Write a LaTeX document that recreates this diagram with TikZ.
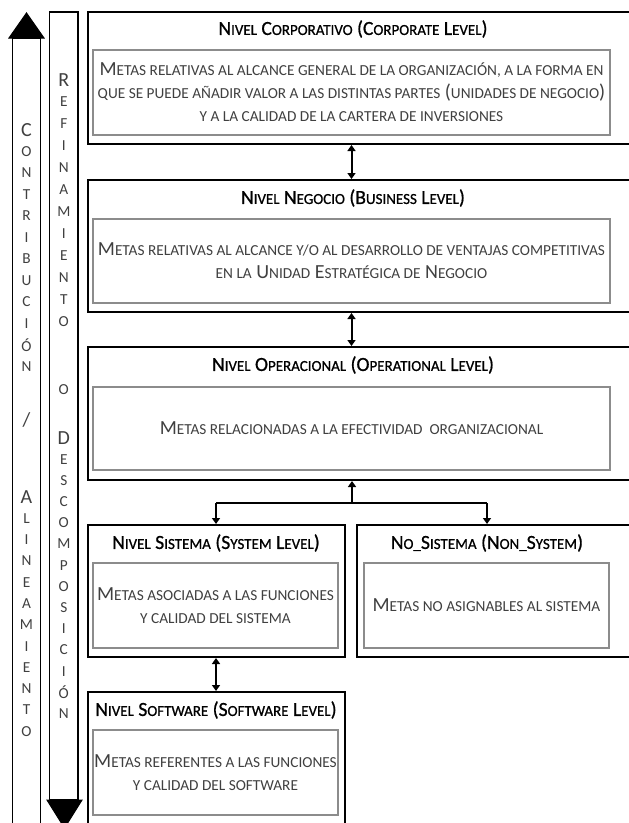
\documentclass[tikz,border=0pt]{standalone}
\usepackage{fontspec}
\setmainfont{Carlito}
\newfontfamily\tfont{Carlito}[FakeStretch=0.98,FakeBold=0.8]
\usetikzlibrary{arrows.meta}
% Word-style small capitals: lower-case letters set as smaller capitals
\newcommand\sk[1]{{\fontsize{15.3}{18}\selectfont #1}}
\definecolor{txtgray}{HTML}{404040}
\definecolor{boxgray}{HTML}{8C8C8C}
\tikzset{
  outerbox/.style={draw=black, line width=2pt, rectangle, inner sep=0pt},
  innerbox/.style={draw=boxgray, line width=1.5pt, fill=white, rectangle, inner sep=0pt,
                   font=\fontsize{20}{23}\selectfont, text=txtgray, align=center},
  titletext/.style={font=\tfont\fontsize{20}{22}\selectfont, text=black, inner sep=0pt},
  tip/.tip={Triangle[width=8pt,length=6pt]},
  link/.style={line width=2pt, tip-tip},
  uplink/.style={line width=2pt, -tip},
  column/.style={draw=black, line width=1.3pt, fill=white},
  colhead/.style={draw=black, line width=1pt, fill=black},
  colbig/.style={font=\fontsize{20}{22}\selectfont, text=txtgray, inner sep=0pt},
  colsmall/.style={font=\fontsize{15.3}{18}\selectfont, text=txtgray, inner sep=0pt},
}
\begin{document}
\begin{tikzpicture}[x=1pt,y=-1pt]
\useasboundingbox (0,0) rectangle (629,823);
\fill[white] (0,0) rectangle (629,823);
\clip (0,0) rectangle (629,823);

% ---- side columns ----
\draw[column] (12.5,38) rectangle (40.5,840);
\draw[colhead] (9,38) -- (44,38) -- (26.5,13) -- cycle;
\draw[column] (49.5,12) rectangle (78,800);
\draw[colhead] (47,800) -- (82,800) -- (64.5,828) -- cycle;

% CONTRIBUCIÓN / ALINEAMIENTO (arrow points up)
\node[colbig] (lc0) at (26.5,130) {C};
\foreach \ch [count=\i] in {O,N,T,R,I,B,U,C,I,Ó,N}
  \node[colsmall] (lc\i) at (26.5,{130+\i*21.5}) {\ch};
\node[colbig] (lslash) at (26.5,420) {/};
\node[colbig] (la0) at (26.5,497) {A};
\foreach \ch [count=\i] in {L,I,N,E,A,M,I,E,N,T,O}
  \node[colsmall] (la\i) at (26.5,{497+\i*21.3}) {\ch};

% REFINAMIENTO O DESCOMPOSICIÓN (arrow points down)
\node[colbig] (rr0) at (63.8,80) {R};
\foreach \ch [count=\i] in {E,F,I,N,A,M,I,E,N,T,O}
  \node[colsmall] (rr\i) at (63.8,{80+\i*22}) {\ch};
\node[colsmall] (ro) at (63.8,390) {O};
\node[colbig] (rd0) at (63.8,438) {D};
\foreach \ch [count=\i] in {E,S,C,O,M,P,O,S,I,C,I,Ó,N}
  \node[colsmall] (rd\i) at (63.8,{438+\i*21.2}) {\ch};

% ---- corporate level ----
\node[outerbox, minimum width=544pt, minimum height=132pt] (corp) at (360,78) {};
\node[titletext] (corpt) at (353,29) {N\sk{IVEL} C\sk{ORPORATIVO} (C\sk{ORPORATE} L\sk{EVEL})};
\node[innerbox, minimum width=517pt, minimum height=85pt] (corpin) at (351.5,92.5)
  {M\sk{ETAS RELATIVAS AL ALCANCE GENERAL DE LA ORGANIZACIÓN, A LA FORMA EN}\\
   \sk{QUE SE PUEDE AÑADIR VALOR A LAS DISTINTAS PARTES} (\sk{UNIDADES DE NEGOCIO})\\
   \sk{Y A LA CALIDAD DE LA CARTERA DE INVERSIONES}};

% ---- business level ----
\node[outerbox, minimum width=544pt, minimum height=132pt] (bus) at (360,246) {};
\node[titletext] (bust) at (353,198) {N\sk{IVEL} N\sk{EGOCIO} (B\sk{USINESS} L\sk{EVEL})};
\node[innerbox, minimum width=517pt, minimum height=84pt] (busin) at (351.5,261)
  {M\sk{ETAS RELATIVAS AL ALCANCE Y/O AL DESARROLLO DE VENTAJAS COMPETITIVAS}\\
   \sk{EN LA} U\sk{NIDAD} E\sk{STRATÉGICA DE} N\sk{EGOCIO}};

% ---- operational level ----
\node[outerbox, minimum width=544pt, minimum height=133pt] (ops) at (360,413.5) {};
\node[titletext] (opst) at (353,365) {N\sk{IVEL} O\sk{PERACIONAL} (O\sk{PERATIONAL} L\sk{EVEL})};
\node[innerbox, minimum width=517pt, minimum height=83pt] (opsin) at (351.5,428.5)
  {M\sk{ETAS RELACIONADAS A LA EFECTIVIDAD\ \ ORGANIZACIONAL}};

% ---- system level ----
\node[outerbox, minimum width=257pt, minimum height=132pt] (sys) at (216.5,591) {};
\node[titletext] (syst) at (216,543) {N\sk{IVEL} S\sk{ISTEMA} (S\sk{YSTEM} L\sk{EVEL})};
\node[innerbox, minimum width=245pt, minimum height=85pt] (sysin) at (215.5,605.5)
  {M\sk{ETAS ASOCIADAS A LAS FUNCIONES}\\ \sk{Y CALIDAD DEL SISTEMA}};

% ---- non-system ----
\node[outerbox, minimum width=275pt, minimum height=132pt] (nsys) at (494.5,591) {};
\node[titletext] (nsyst) at (487,543) {N\sk{O\_}S\sk{ISTEMA} (N\sk{ON\_}S\sk{YSTEM})};
\node[innerbox, minimum width=245pt, minimum height=85pt] (nsysin) at (486.5,605.5)
  {M\sk{ETAS NO ASIGNABLES AL SISTEMA}};

% ---- software level ----
\node[outerbox, minimum width=257pt, minimum height=158pt] (soft) at (216.5,771) {};
\node[titletext] (softt) at (216,710) {N\sk{IVEL} S\sk{OFTWARE} (S\sk{OFTWARE} L\sk{EVEL})};
\node[innerbox, minimum width=245pt, minimum height=85pt] (softin) at (215.5,772.5)
  {M\sk{ETAS REFERENTES A LAS FUNCIONES}\\ \sk{Y CALIDAD DEL SOFTWARE}};

% ---- connectors ----
\draw[link] (corp.south -| corpin) -- (bus.north -| corpin);
\draw[link] (bus.south -| busin) -- (ops.north -| busin);
\coordinate (fork) at (352,503);
\coordinate (forkl) at (216,503);
\coordinate (forkr) at (487,503);
\draw[line width=2.5pt] (forkl) -- (forkr);
\draw[uplink] (fork) -- (ops.south -| fork);
\draw[uplink] (forkl) -- (sys.north -| forkl);
\draw[uplink] (forkr) -- (nsys.north -| forkr);
\draw[link] (sys.south -| forkl) -- (soft.north -| forkl);
\end{tikzpicture}
\end{document}
